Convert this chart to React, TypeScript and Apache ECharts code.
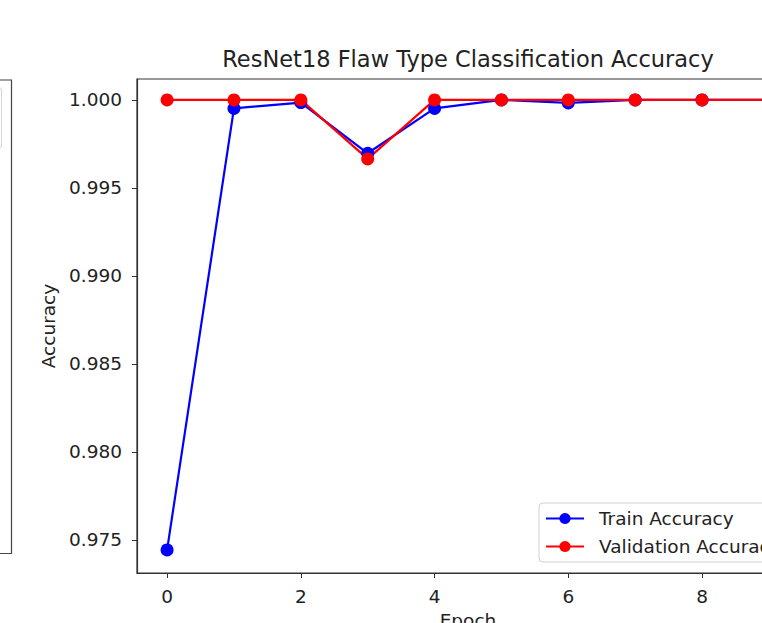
import React, { useEffect, useRef } from "react";
import * as echarts from "echarts";

const epochs = [0, 1, 2, 3, 4, 5, 6, 7, 8, 9];
const trainAccuracy = [0.97443, 0.99952, 0.99985, 0.99697, 0.99952, 1.0, 0.99983, 1.0, 1.0, 1.0];
const validationAccuracy = [1.0, 1.0, 1.0, 0.99665, 1.0, 1.0, 1.0, 1.0, 1.0, 1.0];
const yTicks = [0.975, 0.98, 0.985, 0.99, 0.995, 1.0];
const xTicks = [0, 2, 4, 6, 8];

const FONT = "DejaVu Sans";

export default function App() {
  const ref = useRef<HTMLDivElement>(null);
  useEffect(() => {
    if (!ref.current) return;
    const chart = echarts.init(ref.current, null, { renderer: "svg" });
    const option: any = {
      animation: false,
      backgroundColor: "#ffffff",
      title: {
        text: "ResNet18 Flaw Type Classification Accuracy",
        left: 468,
        textAlign: "center",
        top: 47,
        padding: 0,
        textStyle: { fontFamily: FONT, fontSize: 22.5, fontWeight: "normal", color: "#222" },
      },
      grid: {
        left: 137,
        top: 79,
        width: 662,
        height: 494,
        show: true,
        containLabel: false,
        outerBoundsMode: "none",
        borderColor: "#333",
        borderWidth: 1.2,
        backgroundColor: "transparent",
      },
      legend: {
        left: 539,
        top: 503,
        orient: "vertical",
        itemWidth: 38,
        itemHeight: 14,
        itemGap: 9,
        padding: [6, 40, 6, 6],
        borderColor: "#d0d0d0",
        borderWidth: 1,
        borderRadius: 4,
        backgroundColor: "rgba(255,255,255,0.85)",
        textStyle: { fontFamily: FONT, fontSize: 18.5, color: "#222", padding: [0, 0, 0, 10] },
        data: ["Train Accuracy", "Validation Accuracy"],
      },
      xAxis: {
        type: "value",
        min: -0.45,
        max: 9.45,
        name: "Epoch",
        nameLocation: "middle",
        nameGap: 36,
        nameTextStyle: { fontFamily: FONT, fontSize: 18.5, color: "#222" },
        axisLine: { show: true, onZero: false, lineStyle: { color: "#333", width: 1.2 } },
        axisTick: { show: true, length: 5, lineStyle: { color: "#333" }, customValues: xTicks },
        axisLabel: {
          fontFamily: FONT,
          fontSize: 18.5,
          color: "#222",
          margin: 14,
          customValues: xTicks,
          formatter: (v: number) => String(v),
        },
        splitLine: { show: false },
      },
      yAxis: {
        type: "value",
        min: 0.97312,
        max: 1.00119,
        name: "Accuracy",
        nameLocation: "middle",
        nameGap: 73,
        nameRotate: 90,
        nameTextStyle: { fontFamily: FONT, fontSize: 18.5, color: "#222" },
        axisLine: { show: true, onZero: false, lineStyle: { color: "#333", width: 1.2 } },
        axisTick: { show: true, length: 5, lineStyle: { color: "#333" }, customValues: yTicks },
        axisLabel: {
          fontFamily: FONT,
          fontSize: 18.5,
          color: "#222",
          margin: 15,
          customValues: yTicks,
          formatter: (v: number) => v.toFixed(3),
        },
        splitLine: { show: false },
      },
      graphic: [
        {
          type: "polyline",
          shape: { points: [[0, 80], [11.5, 80], [11.5, 553.5], [0, 553.5]] },
          style: { stroke: "#444", lineWidth: 1.2, fill: "none" },
        },
        {
          type: "polyline",
          shape: { points: [[0, 88], [1, 88.5], [1.5, 90], [1.5, 146], [1, 147.5], [0, 148]] },
          style: { stroke: "#d5d5d5", lineWidth: 1, fill: "none" },
        },
      ],
      series: [
        {
          name: "Train Accuracy",
          type: "line",
          data: epochs.map((e, i) => [e, trainAccuracy[i]]),
          symbol: "circle",
          symbolSize: 13,
          lineStyle: { color: "#0000ff", width: 2.2 },
          itemStyle: { color: "#0000ff" },
          clip: false,
        },
        {
          name: "Validation Accuracy",
          type: "line",
          data: epochs.map((e, i) => [e, validationAccuracy[i]]),
          symbol: "circle",
          symbolSize: 13,
          lineStyle: { color: "#ff0000", width: 2.2 },
          itemStyle: { color: "#ff0000" },
          clip: false,
        },
      ],
    };
    chart.setOption(option);
    return () => chart.dispose();
  }, []);
  return (
    <div
      ref={ref}
      style={{ position: "fixed", left: 0, top: 0, width: 762, height: 623 }}
    />
  );
}
